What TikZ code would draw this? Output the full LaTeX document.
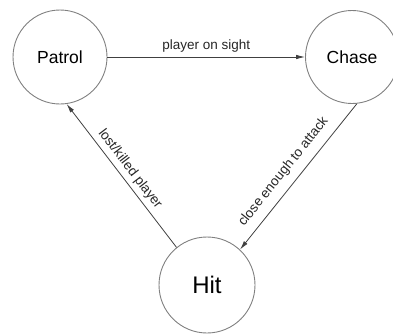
\documentclass[tikz,border=0pt]{standalone}
\usepackage{fontspec}
\setmainfont{Liberation Sans}
\usetikzlibrary{arrows.meta}
\begin{document}
\begin{tikzpicture}[x=1pt,y=1pt,
  state/.style={circle,draw=black!50,line width=0.9pt,inner sep=0pt,minimum size=#1},
  trans/.style={draw=black!75,line width=0.8pt,-{Latex[length=9pt,width=4.5pt]}},
  lbl/.style={font=\fontsize{13.5}{15}\selectfont,text=black!85,inner sep=2pt}]
\useasboundingbox (0,0) rectangle (393,333);
\node[state=94pt,font=\fontsize{17.5}{20}\selectfont] (patrol) at (60,276) {Patrol};
\node[state=93pt,font=\fontsize{17.5}{20}\selectfont] (chase) at (352,276) {Chase};
\node[state=96pt,font=\fontsize{24}{27}\selectfont] (hit) at (207,48) {Hit};
\draw[trans] (patrol) -- node[lbl,above=2pt] {player on sight} (chase);
\draw[trans] (chase.-84) -- node[lbl,sloped,above=6pt,pos=0.53] {close enough to attack} (hit.47);
\draw[trans] (hit.129) -- node[lbl,sloped,above=2pt] {lost/killed player} (patrol.-82);
\end{tikzpicture}
\end{document}
